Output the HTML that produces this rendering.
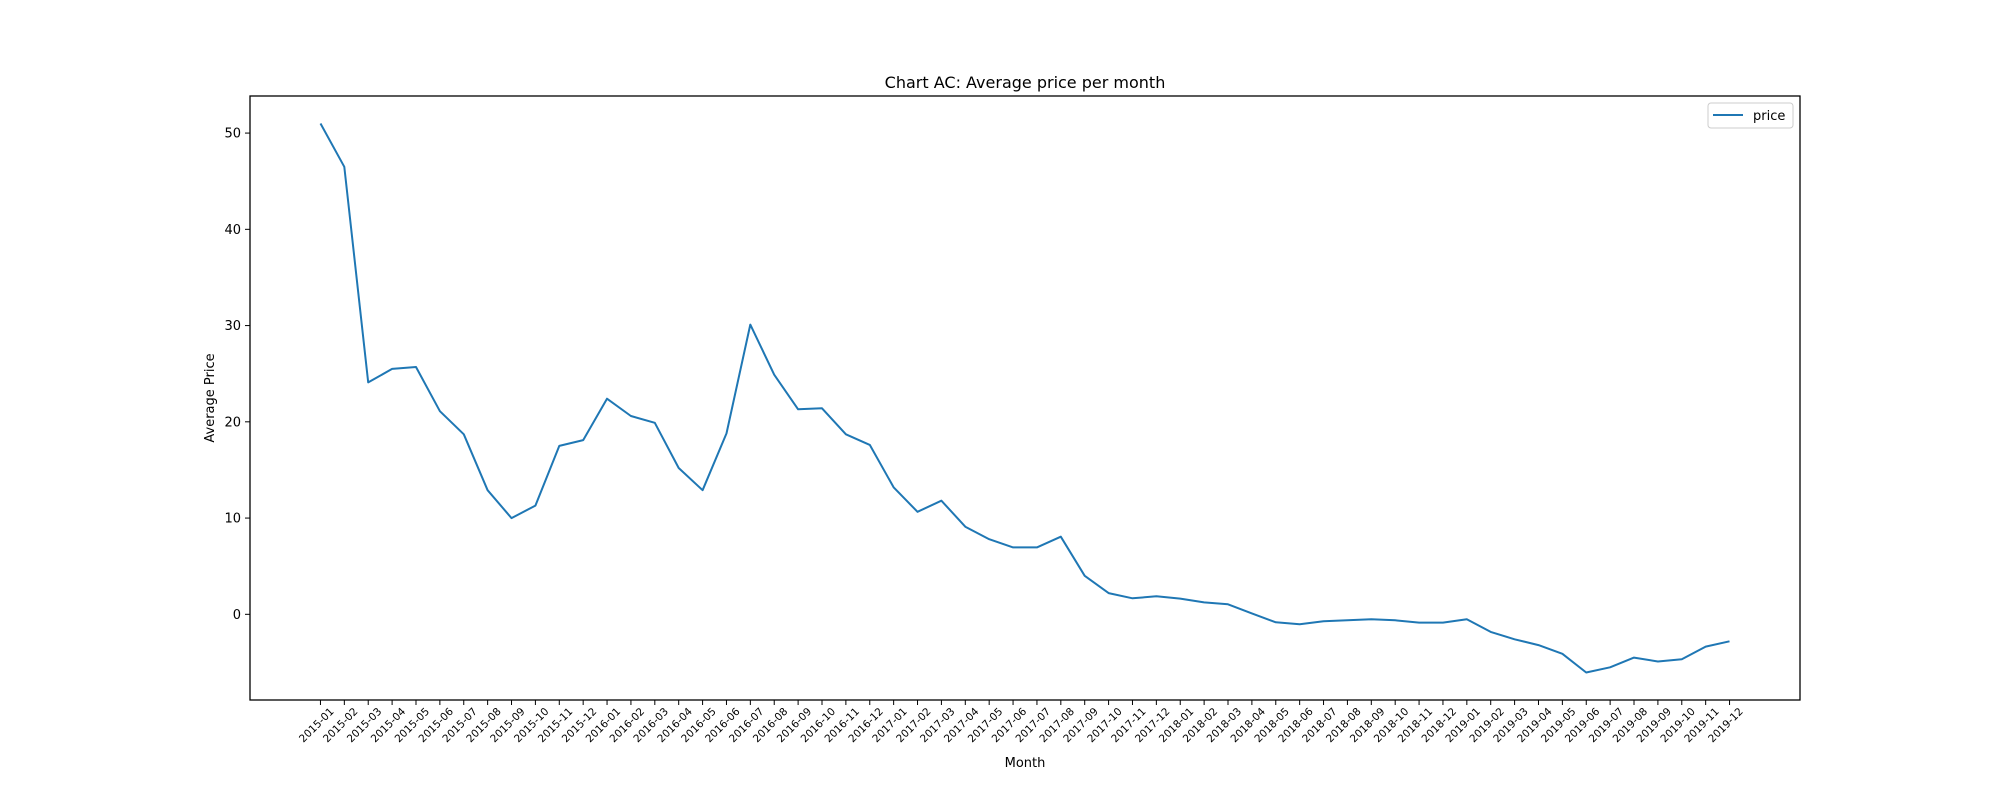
<!DOCTYPE html>
<html><head><meta charset="utf-8"><style>
body{margin:0;background:#fff}
svg{display:block;font-family:"DejaVu Sans","Liberation Sans",sans-serif}
</style></head><body>
<svg id="chart" width="2000" height="800" viewBox="0 0 2000 800" xmlns="http://www.w3.org/2000/svg">
<rect width="2000" height="800" fill="#fff"/>
<text x="1025" y="88" text-anchor="middle" font-size="16">Chart AC: Average price per month</text>
<text x="1025" y="767" text-anchor="middle" font-size="13">Month</text>
<text x="0" y="0" transform="translate(214,398) rotate(-90)" text-anchor="middle" font-size="13">Average Price</text>
<g id="plot"></g>
<rect x="250" y="96" width="1550" height="604" fill="none" stroke="#000" stroke-width="1.3"/>
<g>
<rect x="1708" y="103" width="85" height="25" rx="3" fill="#fff" stroke="#ccc"/>
<line x1="1713" y1="115" x2="1743" y2="115" stroke="#1f77b4" stroke-width="2"/>
<text x="1753" y="120" font-size="13">price</text>
</g>
</svg>
<script>
const months = ["2015-01","2015-02","2015-03","2015-04","2015-05","2015-06","2015-07","2015-08","2015-09","2015-10","2015-11","2015-12","2016-01","2016-02","2016-03","2016-04","2016-05","2016-06","2016-07","2016-08","2016-09","2016-10","2016-11","2016-12","2017-01","2017-02","2017-03","2017-04","2017-05","2017-06","2017-07","2017-08","2017-09","2017-10","2017-11","2017-12","2018-01","2018-02","2018-03","2018-04","2018-05","2018-06","2018-07","2018-08","2018-09","2018-10","2018-11","2018-12","2019-01","2019-02","2019-03","2019-04","2019-05","2019-06","2019-07","2019-08","2019-09","2019-10","2019-11","2019-12"];
const prices = [51.0,46.5,24.1,25.5,25.7,21.1,18.7,12.9,10.0,11.3,17.5,18.1,22.4,20.6,19.9,15.2,12.9,18.8,30.1,24.9,21.3,21.4,18.7,17.6,13.2,10.65,11.8,9.1,7.8,6.95,6.95,8.06,4.0,2.2,1.66,1.87,1.63,1.24,1.04,0.1,-0.83,-1.04,-0.73,-0.62,-0.52,-0.62,-0.86,-0.86,-0.52,-1.83,-2.6,-3.2,-4.1,-6.05,-5.5,-4.5,-4.9,-4.67,-3.35,-2.8];
const yTicks = [0,10,20,30,40,50];

const NS="http://www.w3.org/2000/svg";
const L=250,R=1800,T=96,B=700;
const n=months.length;
const xPad=(n-1)*0.05;
const x0=-xPad,x1=n-1+xPad;
const ymin=Math.min(...prices),ymax=Math.max(...prices);
const yPad=(ymax-ymin)*0.05;
const y0=ymin-yPad,y1=ymax+yPad;
function xs(i){return L+(i-x0)/(x1-x0)*(R-L);}
function ys(v){return B-(v-y0)/(y1-y0)*(B-T);}
const g=document.getElementById('plot');
function mk(tag,attrs){const e=document.createElementNS(NS,tag);for(const k in attrs)e.setAttribute(k,attrs[k]);return e;}

yTicks.forEach(v=>{
  const y=ys(v);
  const t=mk('line',{x1:L-5,x2:L,y1:y,y2:y,stroke:'#000','stroke-width':1});
  
  
  g.appendChild(t);
  const lb=mk('text',{x:L-9,y:y+4.5,'text-anchor':'end','font-size':13});
  
  
  lb.textContent=v;
  g.appendChild(lb);
});
months.forEach((m,i)=>{
  const x=xs(i);
  const t=mk('line',{x1:x,x2:x,y1:B,y2:B+5,stroke:'#000','stroke-width':1});
  
  
  g.appendChild(t);
  const lb=mk('text',{x:0,y:0,'text-anchor':'end','font-size':10.5,transform:`translate(${x+14},${B+12}) rotate(-45)`});
  
  
  lb.textContent=m;
  g.appendChild(lb);
});
const pts=prices.map((v,i)=>xs(i).toFixed(1)+','+ys(v).toFixed(1)).join(' ');
const line=mk('polyline',{points:pts,fill:'none',stroke:'#1f77b4','stroke-width':2,'stroke-linejoin':'round'});


g.appendChild(line);
</script>
</body></html>
